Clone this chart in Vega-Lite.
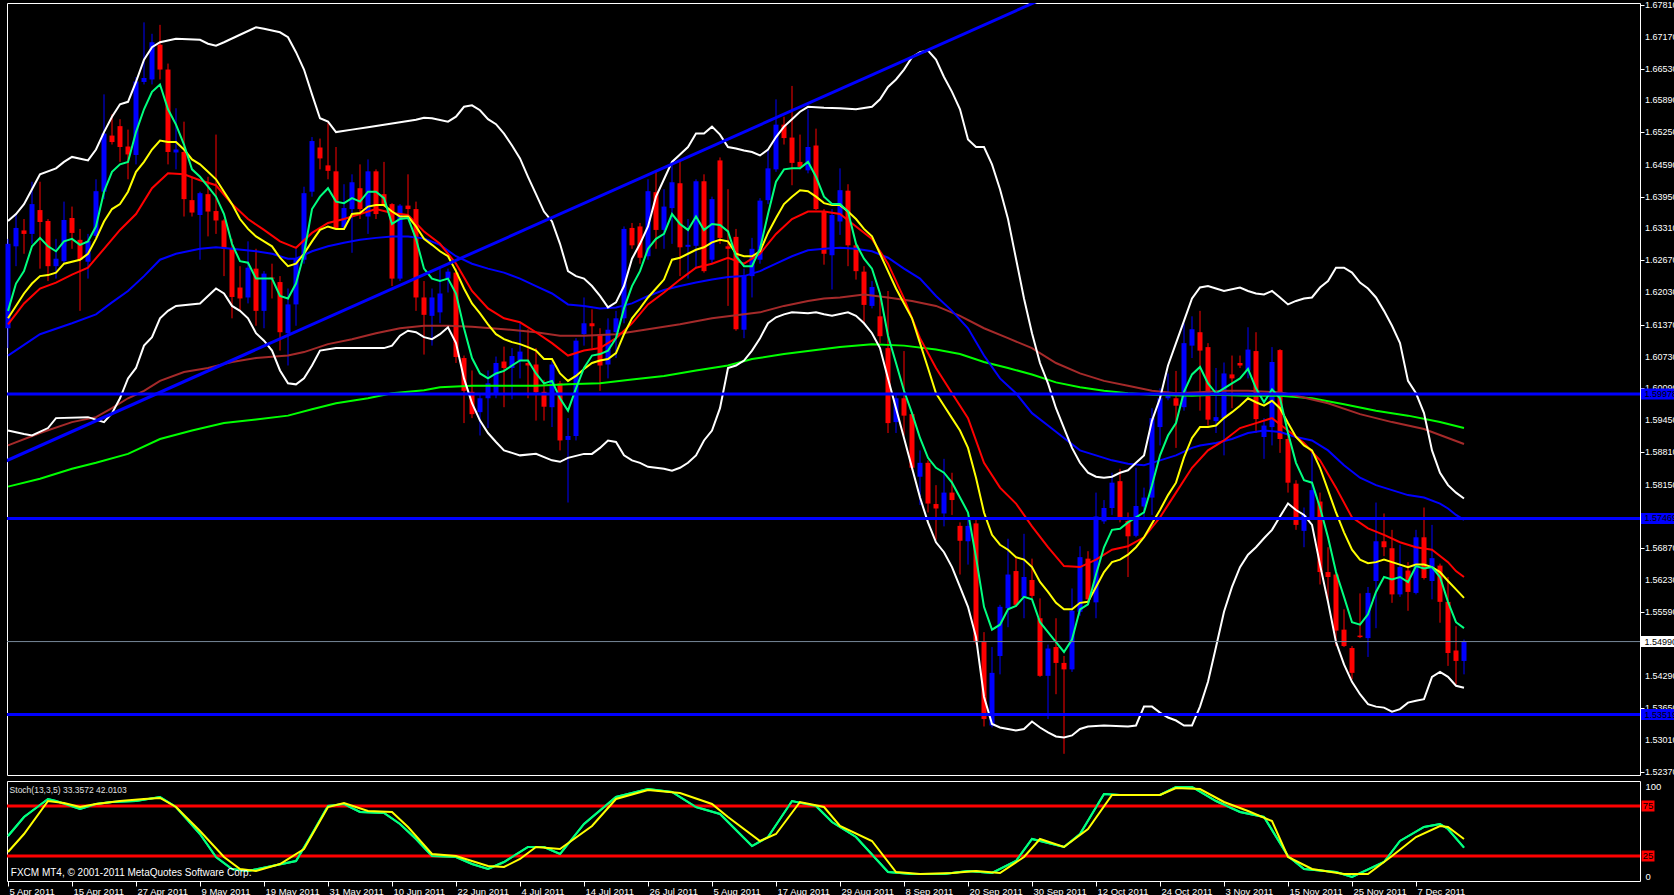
{
"$schema": "https://vega.github.io/schema/vega-lite/v6.json",
"background": "#000000",
"padding": {"left": 3, "top": 0, "right": 0, "bottom": 0},
"spacing": 2,
"config": {
 "view": {"stroke": "#FFFFFF", "strokeWidth": 1, "fill": "#000000"},
 "axis": {"labelColor": "#FFFFFF", "tickColor": "#FFFFFF", "domain": false, "grid": false, "labelFont": "Liberation Sans", "labelFontSize": 9.5, "tickSize": 4, "labelOverlap": false, "labelFlush": false, "title": null},
 "text": {"font": "Liberation Sans"}
},
"datasets": {
"candles": [
{"i":0,"o":1.6130,"h":1.6310,"l":1.6090,"c":1.6300},{"i":1,"o":1.6295,"h":1.6360,"l":1.6255,"c":1.6332},{"i":2,"o":1.6327,"h":1.6350,"l":1.6280,"c":1.6320},{"i":3,"o":1.6320,"h":1.6425,"l":1.6300,"c":1.6380},{"i":4,"o":1.6368,"h":1.6425,"l":1.6250,"c":1.6344},{"i":5,"o":1.6346,"h":1.6350,"l":1.6225,"c":1.6255},{"i":6,"o":1.6255,"h":1.6310,"l":1.6230,"c":1.6270},{"i":7,"o":1.6265,"h":1.6385,"l":1.6260,"c":1.6348},{"i":8,"o":1.6352,"h":1.6375,"l":1.6290,"c":1.6322},{"i":9,"o":1.6308,"h":1.6330,"l":1.6165,"c":1.6268},
{"i":10,"o":1.6264,"h":1.6320,"l":1.6230,"c":1.6306},{"i":11,"o":1.6316,"h":1.6430,"l":1.6310,"c":1.6406},{"i":12,"o":1.6405,"h":1.6601,"l":1.6390,"c":1.6522},{"i":13,"o":1.6518,"h":1.6561,"l":1.6500,"c":1.6505},{"i":14,"o":1.6537,"h":1.6551,"l":1.6465,"c":1.6495},{"i":15,"o":1.6496,"h":1.6530,"l":1.6430,"c":1.6480},{"i":16,"o":1.6479,"h":1.6636,"l":1.6460,"c":1.6627},{"i":17,"o":1.6626,"h":1.6746,"l":1.6621,"c":1.6634},{"i":18,"o":1.6631,"h":1.6723,"l":1.6621,"c":1.6706},{"i":19,"o":1.6701,"h":1.6741,"l":1.6631,"c":1.6651},
{"i":20,"o":1.6651,"h":1.6663,"l":1.6460,"c":1.6485},{"i":21,"o":1.6484,"h":1.6573,"l":1.6450,"c":1.6490},{"i":22,"o":1.6485,"h":1.6546,"l":1.6355,"c":1.6390},{"i":23,"o":1.6388,"h":1.6435,"l":1.6355,"c":1.6363},{"i":24,"o":1.6358,"h":1.6405,"l":1.6268,"c":1.6402},{"i":25,"o":1.6400,"h":1.6435,"l":1.6315,"c":1.6365},{"i":26,"o":1.6366,"h":1.6520,"l":1.6320,"c":1.6347},{"i":27,"o":1.6347,"h":1.6350,"l":1.6235,"c":1.6290},{"i":28,"o":1.6290,"h":1.6310,"l":1.6150,"c":1.6193},{"i":29,"o":1.6212,"h":1.6255,"l":1.6165,"c":1.6190},
{"i":30,"o":1.6192,"h":1.6305,"l":1.6180,"c":1.6252},{"i":31,"o":1.6250,"h":1.6290,"l":1.6135,"c":1.6165},{"i":32,"o":1.6165,"h":1.6245,"l":1.6130,"c":1.6240},{"i":33,"o":1.6232,"h":1.6260,"l":1.6190,"c":1.6230},{"i":34,"o":1.6223,"h":1.6235,"l":1.6085,"c":1.6122},{"i":35,"o":1.6120,"h":1.6210,"l":1.6055,"c":1.6178},{"i":36,"o":1.6178,"h":1.6290,"l":1.6135,"c":1.6270},{"i":37,"o":1.6268,"h":1.6415,"l":1.6260,"c":1.6402},{"i":38,"o":1.6405,"h":1.6515,"l":1.6395,"c":1.6507},{"i":39,"o":1.6494,"h":1.6512,"l":1.6450,"c":1.6472},
{"i":40,"o":1.6458,"h":1.6543,"l":1.6430,"c":1.6447},{"i":41,"o":1.6446,"h":1.6495,"l":1.6330,"c":1.6332},{"i":42,"o":1.6333,"h":1.6420,"l":1.6328,"c":1.6372},{"i":43,"o":1.6370,"h":1.6440,"l":1.6282,"c":1.6424},{"i":44,"o":1.6412,"h":1.6460,"l":1.6350,"c":1.6370},{"i":45,"o":1.6355,"h":1.6470,"l":1.6320,"c":1.6446},{"i":46,"o":1.6446,"h":1.6450,"l":1.6350,"c":1.6360},{"i":47,"o":1.6400,"h":1.6465,"l":1.6375,"c":1.6378},{"i":48,"o":1.6380,"h":1.6382,"l":1.6215,"c":1.6230},{"i":49,"o":1.6230,"h":1.6380,"l":1.6225,"c":1.6377},
{"i":50,"o":1.6377,"h":1.6440,"l":1.6360,"c":1.6370},{"i":51,"o":1.6370,"h":1.6385,"l":1.6165,"c":1.6192},{"i":52,"o":1.6192,"h":1.6225,"l":1.6077,"c":1.6157},{"i":53,"o":1.6155,"h":1.6210,"l":1.6095,"c":1.6192},{"i":54,"o":1.6162,"h":1.6250,"l":1.6140,"c":1.6200},{"i":55,"o":1.6230,"h":1.6250,"l":1.6202,"c":1.6244},{"i":56,"o":1.6242,"h":1.6250,"l":1.6060,"c":1.6072},{"i":57,"o":1.6070,"h":1.6075,"l":1.5939,"c":1.6004},{"i":58,"o":1.6002,"h":1.6045,"l":1.5949,"c":1.5957},{"i":59,"o":1.5961,"h":1.5999,"l":1.5914,"c":1.5989},
{"i":60,"o":1.5989,"h":1.6045,"l":1.5929,"c":1.6019},{"i":61,"o":1.5999,"h":1.6073,"l":1.5989,"c":1.6060},{"i":62,"o":1.6063,"h":1.6093,"l":1.5971,"c":1.6050},{"i":63,"o":1.6050,"h":1.6090,"l":1.5987,"c":1.6074},{"i":64,"o":1.6065,"h":1.6140,"l":1.6029,"c":1.6083},{"i":65,"o":1.6060,"h":1.6128,"l":1.5989,"c":1.6055},{"i":66,"o":1.6057,"h":1.6090,"l":1.5944,"c":1.6001},{"i":67,"o":1.6002,"h":1.6026,"l":1.5944,"c":1.5972},{"i":68,"o":1.5971,"h":1.6063,"l":1.5931,"c":1.6057},{"i":69,"o":1.6019,"h":1.6024,"l":1.5884,"c":1.5904},
{"i":70,"o":1.5905,"h":1.5949,"l":1.5779,"c":1.5913},{"i":71,"o":1.5913,"h":1.6110,"l":1.5904,"c":1.6105},{"i":72,"o":1.6118,"h":1.6192,"l":1.6095,"c":1.6140},{"i":73,"o":1.6140,"h":1.6168,"l":1.6090,"c":1.6134},{"i":74,"o":1.6118,"h":1.6130,"l":1.6004,"c":1.6055},{"i":75,"o":1.6057,"h":1.6150,"l":1.6029,"c":1.6127},{"i":76,"o":1.6122,"h":1.6165,"l":1.6070,"c":1.6150},{"i":77,"o":1.6150,"h":1.6335,"l":1.6140,"c":1.6330},{"i":78,"o":1.6332,"h":1.6342,"l":1.6290,"c":1.6297},{"i":79,"o":1.6335,"h":1.6342,"l":1.6260,"c":1.6272},
{"i":80,"o":1.6275,"h":1.6430,"l":1.6268,"c":1.6406},{"i":81,"o":1.6404,"h":1.6446,"l":1.6290,"c":1.6328},{"i":82,"o":1.6328,"h":1.6410,"l":1.6290,"c":1.6375},{"i":83,"o":1.6372,"h":1.6460,"l":1.6300,"c":1.6424},{"i":84,"o":1.6422,"h":1.6470,"l":1.6235,"c":1.6293},{"i":85,"o":1.6294,"h":1.6350,"l":1.6230,"c":1.6298},{"i":86,"o":1.6296,"h":1.6430,"l":1.6250,"c":1.6426},{"i":87,"o":1.6426,"h":1.6440,"l":1.6242,"c":1.6245},{"i":88,"o":1.6268,"h":1.6395,"l":1.6260,"c":1.6390},{"i":89,"o":1.6468,"h":1.6474,"l":1.6300,"c":1.6312},
{"i":90,"o":1.6295,"h":1.6410,"l":1.6175,"c":1.6290},{"i":91,"o":1.6314,"h":1.6330,"l":1.6125,"c":1.6128},{"i":92,"o":1.6127,"h":1.6250,"l":1.6110,"c":1.6237},{"i":93,"o":1.6235,"h":1.6312,"l":1.6192,"c":1.6290},{"i":94,"o":1.6268,"h":1.6392,"l":1.6260,"c":1.6387},{"i":95,"o":1.6388,"h":1.6490,"l":1.6380,"c":1.6452},{"i":96,"o":1.6450,"h":1.6591,"l":1.6445,"c":1.6540},{"i":97,"o":1.6540,"h":1.6556,"l":1.6500,"c":1.6513},{"i":98,"o":1.6514,"h":1.6618,"l":1.6418,"c":1.6463},{"i":99,"o":1.6465,"h":1.6520,"l":1.6450,"c":1.6455},
{"i":100,"o":1.6448,"h":1.6571,"l":1.6442,"c":1.6495},{"i":101,"o":1.6498,"h":1.6532,"l":1.6368,"c":1.6370},{"i":102,"o":1.6366,"h":1.6370,"l":1.6258,"c":1.6280},{"i":103,"o":1.6277,"h":1.6370,"l":1.6208,"c":1.6358},{"i":104,"o":1.6345,"h":1.6452,"l":1.6318,"c":1.6408},{"i":105,"o":1.6407,"h":1.6420,"l":1.6255,"c":1.6297},{"i":106,"o":1.6297,"h":1.6300,"l":1.6228,"c":1.6245},{"i":107,"o":1.6244,"h":1.6255,"l":1.6142,"c":1.6177},{"i":108,"o":1.6175,"h":1.6225,"l":1.6170,"c":1.6213},{"i":109,"o":1.6154,"h":1.6195,"l":1.6100,"c":1.6114},
{"i":110,"o":1.6090,"h":1.6205,"l":1.5919,"c":1.5939},{"i":111,"o":1.5941,"h":1.5999,"l":1.5919,"c":1.5989},{"i":112,"o":1.5989,"h":1.6084,"l":1.5914,"c":1.5954},{"i":113,"o":1.5957,"h":1.5961,"l":1.5844,"c":1.5849},{"i":114,"o":1.5831,"h":1.5884,"l":1.5774,"c":1.5859},{"i":115,"o":1.5859,"h":1.5864,"l":1.5759,"c":1.5777},{"i":116,"o":1.5776,"h":1.5814,"l":1.5704,"c":1.5767},{"i":117,"o":1.5757,"h":1.5867,"l":1.5731,"c":1.5799},{"i":118,"o":1.5799,"h":1.5839,"l":1.5754,"c":1.5784},{"i":119,"o":1.5732,"h":1.5739,"l":1.5634,"c":1.5702},
{"i":120,"o":1.5701,"h":1.5749,"l":1.5654,"c":1.5732},{"i":121,"o":1.5737,"h":1.5744,"l":1.5493,"c":1.5498},{"i":122,"o":1.5498,"h":1.5518,"l":1.5328,"c":1.5343},{"i":123,"o":1.5330,"h":1.5488,"l":1.5326,"c":1.5436},{"i":124,"o":1.5470,"h":1.5573,"l":1.5433,"c":1.5569},{"i":125,"o":1.5566,"h":1.5706,"l":1.5528,"c":1.5634},{"i":126,"o":1.5641,"h":1.5671,"l":1.5569,"c":1.5573},{"i":127,"o":1.5589,"h":1.5716,"l":1.5546,"c":1.5629},{"i":128,"o":1.5623,"h":1.5666,"l":1.5586,"c":1.5591},{"i":129,"o":1.5546,"h":1.5586,"l":1.5428,"c":1.5430},
{"i":130,"o":1.5430,"h":1.5493,"l":1.5343,"c":1.5485},{"i":131,"o":1.5488,"h":1.5546,"l":1.5393,"c":1.5456},{"i":132,"o":1.5456,"h":1.5470,"l":1.5273,"c":1.5443},{"i":133,"o":1.5443,"h":1.5606,"l":1.5438,"c":1.5561},{"i":134,"o":1.5559,"h":1.5691,"l":1.5551,"c":1.5669},{"i":135,"o":1.5666,"h":1.5681,"l":1.5576,"c":1.5584},{"i":136,"o":1.5578,"h":1.5799,"l":1.5546,"c":1.5751},{"i":137,"o":1.5741,"h":1.5784,"l":1.5736,"c":1.5768},{"i":138,"o":1.5768,"h":1.5839,"l":1.5754,"c":1.5819},{"i":139,"o":1.5822,"h":1.5847,"l":1.5739,"c":1.5744},
{"i":140,"o":1.5742,"h":1.5759,"l":1.5629,"c":1.5711},{"i":141,"o":1.5712,"h":1.5849,"l":1.5709,"c":1.5772},{"i":142,"o":1.5771,"h":1.5809,"l":1.5749,"c":1.5789},{"i":143,"o":1.5789,"h":1.5969,"l":1.5754,"c":1.5949},{"i":144,"o":1.5931,"h":1.6009,"l":1.5894,"c":1.5989},{"i":145,"o":1.5989,"h":1.6039,"l":1.5985,"c":1.5999},{"i":146,"o":1.5989,"h":1.6044,"l":1.5889,"c":1.5974},{"i":147,"o":1.5971,"h":1.6140,"l":1.5964,"c":1.6100},{"i":148,"o":1.6095,"h":1.6154,"l":1.6070,"c":1.6128},{"i":149,"o":1.6122,"h":1.6165,"l":1.5964,"c":1.6085},
{"i":150,"o":1.6092,"h":1.6100,"l":1.5934,"c":1.5946},{"i":151,"o":1.5943,"h":1.6050,"l":1.5919,"c":1.5951},{"i":152,"o":1.5949,"h":1.6061,"l":1.5874,"c":1.6039},{"i":153,"o":1.6037,"h":1.6075,"l":1.5969,"c":1.6029},{"i":154,"o":1.6060,"h":1.6075,"l":1.6050,"c":1.6055},{"i":155,"o":1.6045,"h":1.6132,"l":1.6029,"c":1.6087},{"i":156,"o":1.6084,"h":1.6122,"l":1.5919,"c":1.5947},{"i":157,"o":1.5911,"h":1.5949,"l":1.5867,"c":1.5934},{"i":158,"o":1.5931,"h":1.6092,"l":1.5894,"c":1.6062},{"i":159,"o":1.6086,"h":1.6088,"l":1.5879,"c":1.5907},
{"i":160,"o":1.5907,"h":1.5919,"l":1.5799,"c":1.5819},{"i":161,"o":1.5817,"h":1.5824,"l":1.5724,"c":1.5734},{"i":162,"o":1.5722,"h":1.5769,"l":1.5689,"c":1.5754},{"i":163,"o":1.5749,"h":1.5884,"l":1.5744,"c":1.5804},{"i":164,"o":1.5781,"h":1.5799,"l":1.5614,"c":1.5639},{"i":165,"o":1.5639,"h":1.5689,"l":1.5579,"c":1.5629},{"i":166,"o":1.5634,"h":1.5639,"l":1.5490,"c":1.5521},{"i":167,"o":1.5523,"h":1.5564,"l":1.5488,"c":1.5490},{"i":168,"o":1.5486,"h":1.5490,"l":1.5423,"c":1.5436},{"i":169,"o":1.5511,"h":1.5596,"l":1.5506,"c":1.5508},
{"i":170,"o":1.5506,"h":1.5609,"l":1.5468,"c":1.5597},{"i":171,"o":1.5621,"h":1.5779,"l":1.5526,"c":1.5701},{"i":172,"o":1.5701,"h":1.5757,"l":1.5671,"c":1.5689},{"i":173,"o":1.5687,"h":1.5724,"l":1.5577,"c":1.5594},{"i":174,"o":1.5594,"h":1.5694,"l":1.5589,"c":1.5649},{"i":175,"o":1.5642,"h":1.5659,"l":1.5561,"c":1.5599},{"i":176,"o":1.5597,"h":1.5724,"l":1.5594,"c":1.5709},{"i":177,"o":1.5709,"h":1.5769,"l":1.5624,"c":1.5627},{"i":178,"o":1.5621,"h":1.5734,"l":1.5584,"c":1.5667},{"i":179,"o":1.5652,"h":1.5656,"l":1.5537,"c":1.5579},
{"i":180,"o":1.5579,"h":1.5629,"l":1.5450,"c":1.5476},{"i":181,"o":1.5481,"h":1.5530,"l":1.5413,"c":1.5460},{"i":182,"o":1.5460,"h":1.5503,"l":1.5433,"c":1.5499}
],
"green": [
{"i":0,"v":1.6165},{"i":1,"v":1.6220},{"i":2,"v":1.6245},{"i":3,"v":1.6295},{"i":4,"v":1.6312},{"i":5,"v":1.6295},{"i":6,"v":1.6285},{"i":7,"v":1.6305},{"i":8,"v":1.6310},{"i":9,"v":1.6298},{"i":10,"v":1.6305},{"i":11,"v":1.6335},{"i":12,"v":1.6405},{"i":13,"v":1.6445},{"i":14,"v":1.6460},{"i":15,"v":1.6465},{"i":16,"v":1.6525},{"i":17,"v":1.6571},{"i":18,"v":1.6606},{"i":19,"v":1.6621},{"i":20,"v":1.6571},{"i":21,"v":1.6540},{"i":22,"v":1.6500},{"i":23,"v":1.6450},{"i":24,"v":1.6435},{"i":25,"v":1.6415},{"i":26,"v":1.6395},{"i":27,"v":1.6360},{"i":28,"v":1.6300},{"i":29,"v":1.6265},{"i":30,"v":1.6262},{"i":31,"v":1.6230},{"i":32,"v":1.6230},{"i":33,"v":1.6230},{"i":34,"v":1.6195},{"i":35,"v":1.6190},{"i":36,"v":1.6220},{"i":37,"v":1.6280},{"i":38,"v":1.6370},{"i":39,"v":1.6395},{"i":40,"v":1.6412},{"i":41,"v":1.6385},{"i":42,"v":1.6382},{"i":43,"v":1.6392},{"i":44,"v":1.6385},{"i":45,"v":1.6405},{"i":46,"v":1.6405},{"i":47,"v":1.6392},{"i":48,"v":1.6340},{"i":49,"v":1.6350},
{"i":50,"v":1.6352},{"i":51,"v":1.6310},{"i":52,"v":1.6250},{"i":53,"v":1.6230},{"i":54,"v":1.6225},{"i":55,"v":1.6230},{"i":56,"v":1.6200},{"i":57,"v":1.6130},{"i":58,"v":1.6070},{"i":59,"v":1.6039},{"i":60,"v":1.6029},{"i":61,"v":1.6039},{"i":62,"v":1.6044},{"i":63,"v":1.6055},{"i":64,"v":1.6065},{"i":65,"v":1.6065},{"i":66,"v":1.6039},{"i":67,"v":1.6019},{"i":68,"v":1.6024},{"i":69,"v":1.5989},{"i":70,"v":1.5964},{"i":71,"v":1.6009},{"i":72,"v":1.6050},{"i":73,"v":1.6075},{"i":74,"v":1.6078},{"i":75,"v":1.6085},{"i":76,"v":1.6110},{"i":77,"v":1.6170},{"i":78,"v":1.6215},{"i":79,"v":1.6245},{"i":80,"v":1.6290},{"i":81,"v":1.6310},{"i":82,"v":1.6320},{"i":83,"v":1.6360},{"i":84,"v":1.6340},{"i":85,"v":1.6328},{"i":86,"v":1.6355},{"i":87,"v":1.6328},{"i":88,"v":1.6340},{"i":89,"v":1.6338},{"i":90,"v":1.6325},{"i":91,"v":1.6275},{"i":92,"v":1.6255},{"i":93,"v":1.6255},{"i":94,"v":1.6290},{"i":95,"v":1.6360},{"i":96,"v":1.6425},{"i":97,"v":1.6450},{"i":98,"v":1.6452},{"i":99,"v":1.6452},
{"i":100,"v":1.6465},{"i":101,"v":1.6435},{"i":102,"v":1.6395},{"i":103,"v":1.6380},{"i":104,"v":1.6380},{"i":105,"v":1.6365},{"i":106,"v":1.6300},{"i":107,"v":1.6270},{"i":108,"v":1.6250},{"i":109,"v":1.6200},{"i":110,"v":1.6115},{"i":111,"v":1.6060},{"i":112,"v":1.6004},{"i":113,"v":1.5959},{"i":114,"v":1.5909},{"i":115,"v":1.5869},{"i":116,"v":1.5849},{"i":117,"v":1.5839},{"i":118,"v":1.5819},{"i":119,"v":1.5789},{"i":120,"v":1.5759},{"i":121,"v":1.5669},{"i":122,"v":1.5569},{"i":123,"v":1.5523},{"i":124,"v":1.5533},{"i":125,"v":1.5564},{"i":126,"v":1.5571},{"i":127,"v":1.5589},{"i":128,"v":1.5584},{"i":129,"v":1.5538},{"i":130,"v":1.5518},{"i":131,"v":1.5498},{"i":132,"v":1.5478},{"i":133,"v":1.5503},{"i":134,"v":1.5564},{"i":135,"v":1.5574},{"i":136,"v":1.5634},{"i":137,"v":1.5689},{"i":138,"v":1.5724},{"i":139,"v":1.5726},{"i":140,"v":1.5739},{"i":141,"v":1.5749},{"i":142,"v":1.5759},{"i":143,"v":1.5814},{"i":144,"v":1.5874},{"i":145,"v":1.5914},{"i":146,"v":1.5939},{"i":147,"v":1.6002},{"i":148,"v":1.6037},{"i":149,"v":1.6052},
{"i":150,"v":1.6019},{"i":151,"v":1.5999},{"i":152,"v":1.6009},{"i":153,"v":1.6019},{"i":154,"v":1.6029},{"i":155,"v":1.6048},{"i":156,"v":1.6009},{"i":157,"v":1.5981},{"i":158,"v":1.6007},{"i":159,"v":1.5989},{"i":160,"v":1.5919},{"i":161,"v":1.5859},{"i":162,"v":1.5824},{"i":163,"v":1.5819},{"i":164,"v":1.5769},{"i":165,"v":1.5709},{"i":166,"v":1.5639},{"i":167,"v":1.5589},{"i":168,"v":1.5538},{"i":169,"v":1.5533},{"i":170,"v":1.5554},{"i":171,"v":1.5599},{"i":172,"v":1.5629},{"i":173,"v":1.5624},{"i":174,"v":1.5629},{"i":175,"v":1.5619},{"i":176,"v":1.5651},{"i":177,"v":1.5646},{"i":178,"v":1.5649},{"i":179,"v":1.5629},{"i":180,"v":1.5579},{"i":181,"v":1.5538},{"i":182,"v":1.5526}
],
"yellow": [
{"i":0,"v":1.6150},{"i":2,"v":1.6200},{"i":3,"v":1.6220},{"i":4,"v":1.6235},{"i":5,"v":1.6237},{"i":6,"v":1.6242},{"i":7,"v":1.6260},{"i":9,"v":1.6268},{"i":10,"v":1.6280},{"i":11,"v":1.6310},{"i":12,"v":1.6345},{"i":13,"v":1.6370},{"i":14,"v":1.6380},{"i":15,"v":1.6405},{"i":16,"v":1.6445},{"i":17,"v":1.6465},{"i":18,"v":1.6490},{"i":19,"v":1.6508},{"i":20,"v":1.6505},{"i":21,"v":1.6505},{"i":22,"v":1.6490},{"i":23,"v":1.6470},{"i":24,"v":1.6460},{"i":25,"v":1.6445},{"i":26,"v":1.6430},{"i":27,"v":1.6405},{"i":28,"v":1.6380},{"i":29,"v":1.6350},{"i":30,"v":1.6330},{"i":31,"v":1.6315},{"i":32,"v":1.6305},{"i":33,"v":1.6295},{"i":34,"v":1.6272},{"i":35,"v":1.6255},{"i":36,"v":1.6260},{"i":37,"v":1.6280},{"i":38,"v":1.6305},{"i":39,"v":1.6328},{"i":40,"v":1.6335},{"i":41,"v":1.6330},{"i":42,"v":1.6330},{"i":43,"v":1.6360},{"i":44,"v":1.6362},{"i":45,"v":1.6375},{"i":46,"v":1.6378},{"i":47,"v":1.6378},{"i":48,"v":1.6365},{"i":49,"v":1.6355},
{"i":50,"v":1.6355},{"i":51,"v":1.6335},{"i":52,"v":1.6310},{"i":53,"v":1.6298},{"i":54,"v":1.6285},{"i":55,"v":1.6275},{"i":56,"v":1.6245},{"i":57,"v":1.6210},{"i":58,"v":1.6180},{"i":59,"v":1.6160},{"i":60,"v":1.6138},{"i":61,"v":1.6118},{"i":62,"v":1.6108},{"i":63,"v":1.6102},{"i":64,"v":1.6098},{"i":65,"v":1.6092},{"i":66,"v":1.6085},{"i":67,"v":1.6068},{"i":68,"v":1.6068},{"i":69,"v":1.6039},{"i":70,"v":1.6024},{"i":71,"v":1.6034},{"i":72,"v":1.6048},{"i":73,"v":1.6060},{"i":74,"v":1.6065},{"i":75,"v":1.6068},{"i":76,"v":1.6080},{"i":77,"v":1.6118},{"i":78,"v":1.6150},{"i":79,"v":1.6170},{"i":80,"v":1.6192},{"i":81,"v":1.6210},{"i":82,"v":1.6228},{"i":83,"v":1.6268},{"i":84,"v":1.6272},{"i":85,"v":1.6280},{"i":86,"v":1.6288},{"i":87,"v":1.6293},{"i":88,"v":1.6303},{"i":89,"v":1.6308},{"i":90,"v":1.6305},{"i":91,"v":1.6280},{"i":92,"v":1.6275},{"i":93,"v":1.6275},{"i":94,"v":1.6285},{"i":95,"v":1.6322},{"i":96,"v":1.6352},{"i":97,"v":1.6380},{"i":98,"v":1.6395},{"i":99,"v":1.6408},
{"i":100,"v":1.6406},{"i":101,"v":1.6395},{"i":102,"v":1.6382},{"i":103,"v":1.6378},{"i":104,"v":1.6378},{"i":105,"v":1.6365},{"i":106,"v":1.6350},{"i":107,"v":1.6330},{"i":108,"v":1.6315},{"i":109,"v":1.6280},{"i":110,"v":1.6245},{"i":111,"v":1.6210},{"i":112,"v":1.6180},{"i":113,"v":1.6150},{"i":114,"v":1.6100},{"i":115,"v":1.6050},{"i":116,"v":1.5999},{"i":117,"v":1.5974},{"i":118,"v":1.5949},{"i":119,"v":1.5924},{"i":120,"v":1.5889},{"i":121,"v":1.5829},{"i":122,"v":1.5759},{"i":123,"v":1.5714},{"i":124,"v":1.5694},{"i":125,"v":1.5684},{"i":126,"v":1.5669},{"i":127,"v":1.5664},{"i":128,"v":1.5649},{"i":129,"v":1.5619},{"i":130,"v":1.5599},{"i":131,"v":1.5577},{"i":132,"v":1.5564},{"i":133,"v":1.5564},{"i":134,"v":1.5577},{"i":135,"v":1.5579},{"i":136,"v":1.5609},{"i":137,"v":1.5639},{"i":138,"v":1.5659},{"i":139,"v":1.5664},{"i":140,"v":1.5674},{"i":141,"v":1.5689},{"i":142,"v":1.5709},{"i":143,"v":1.5737},{"i":144,"v":1.5764},{"i":145,"v":1.5794},{"i":146,"v":1.5819},{"i":147,"v":1.5870},{"i":148,"v":1.5909},{"i":149,"v":1.5931},
{"i":150,"v":1.5931},{"i":151,"v":1.5934},{"i":152,"v":1.5949},{"i":153,"v":1.5961},{"i":154,"v":1.5974},{"i":155,"v":1.5989},{"i":156,"v":1.5981},{"i":157,"v":1.5974},{"i":158,"v":1.5984},{"i":159,"v":1.5969},{"i":160,"v":1.5939},{"i":161,"v":1.5911},{"i":162,"v":1.5894},{"i":163,"v":1.5884},{"i":164,"v":1.5849},{"i":165,"v":1.5804},{"i":166,"v":1.5759},{"i":167,"v":1.5719},{"i":168,"v":1.5684},{"i":169,"v":1.5664},{"i":170,"v":1.5657},{"i":171,"v":1.5659},{"i":172,"v":1.5664},{"i":173,"v":1.5659},{"i":174,"v":1.5654},{"i":175,"v":1.5649},{"i":176,"v":1.5654},{"i":177,"v":1.5654},{"i":178,"v":1.5649},{"i":179,"v":1.5639},{"i":180,"v":1.5621},{"i":181,"v":1.5604},{"i":182,"v":1.5587}
],
"red": [
{"i":0,"v":1.6138},{"i":2,"v":1.6180},{"i":4,"v":1.6210},{"i":6,"v":1.6222},{"i":8,"v":1.6238},{"i":10,"v":1.6252},{"i":12,"v":1.6290},{"i":14,"v":1.6328},{"i":16,"v":1.6360},{"i":18,"v":1.6412},{"i":20,"v":1.6442},{"i":22,"v":1.6440},{"i":24,"v":1.6428},{"i":26,"v":1.6418},{"i":28,"v":1.6380},{"i":30,"v":1.6350},{"i":32,"v":1.6328},{"i":34,"v":1.6305},{"i":36,"v":1.6292},{"i":38,"v":1.6322},{"i":40,"v":1.6342},{"i":42,"v":1.6350},{"i":44,"v":1.6360},{"i":46,"v":1.6370},{"i":48,"v":1.6362},{"i":50,"v":1.6358},{"i":52,"v":1.6325},{"i":54,"v":1.6300},{"i":56,"v":1.6260},{"i":58,"v":1.6205},{"i":60,"v":1.6170},{"i":62,"v":1.6150},{"i":64,"v":1.6142},{"i":66,"v":1.6122},{"i":68,"v":1.6100},{"i":70,"v":1.6075},{"i":72,"v":1.6085},{"i":74,"v":1.6090},{"i":76,"v":1.6110},{"i":78,"v":1.6140},{"i":80,"v":1.6178},{"i":82,"v":1.6202},{"i":84,"v":1.6228},{"i":86,"v":1.6252},{"i":88,"v":1.6260},{"i":90,"v":1.6272},{"i":92,"v":1.6260},{"i":94,"v":1.6280},{"i":96,"v":1.6320},{"i":98,"v":1.6350},
{"i":100,"v":1.6365},{"i":102,"v":1.6365},{"i":104,"v":1.6360},{"i":106,"v":1.6335},{"i":108,"v":1.6310},{"i":110,"v":1.6260},{"i":112,"v":1.6190},{"i":114,"v":1.6110},{"i":116,"v":1.6050},{"i":118,"v":1.5999},{"i":120,"v":1.5949},{"i":122,"v":1.5859},{"i":124,"v":1.5809},{"i":126,"v":1.5777},{"i":128,"v":1.5731},{"i":130,"v":1.5689},{"i":132,"v":1.5651},{"i":134,"v":1.5649},{"i":136,"v":1.5664},{"i":138,"v":1.5684},{"i":140,"v":1.5691},{"i":142,"v":1.5709},{"i":144,"v":1.5749},{"i":146,"v":1.5799},{"i":148,"v":1.5849},{"i":150,"v":1.5884},{"i":152,"v":1.5904},{"i":154,"v":1.5929},{"i":156,"v":1.5939},{"i":158,"v":1.5949},{"i":160,"v":1.5924},{"i":162,"v":1.5899},{"i":164,"v":1.5864},{"i":166,"v":1.5809},{"i":168,"v":1.5749},{"i":170,"v":1.5727},{"i":172,"v":1.5714},{"i":174,"v":1.5699},{"i":176,"v":1.5689},{"i":178,"v":1.5684},{"i":180,"v":1.5659},{"i":181,"v":1.5641},{"i":182,"v":1.5629}
],
"bluema": [
{"i":0,"v":1.6075},{"i":4,"v":1.6118},{"i":8,"v":1.6140},{"i":11,"v":1.6158},{"i":13,"v":1.6182},{"i":15,"v":1.6205},{"i":17,"v":1.6235},{"i":19,"v":1.6268},{"i":21,"v":1.6280},{"i":24,"v":1.6290},{"i":26,"v":1.6293},{"i":28,"v":1.6290},{"i":31,"v":1.6285},{"i":33,"v":1.6280},{"i":35,"v":1.6270},{"i":36,"v":1.6270},{"i":38,"v":1.6285},{"i":40,"v":1.6295},{"i":42,"v":1.6302},{"i":44,"v":1.6308},{"i":46,"v":1.6312},{"i":48,"v":1.6315},{"i":50,"v":1.6315},{"i":52,"v":1.6311},{"i":54,"v":1.6298},{"i":56,"v":1.6275},{"i":58,"v":1.6260},{"i":60,"v":1.6250},{"i":62,"v":1.6242},{"i":64,"v":1.6230},{"i":66,"v":1.6215},{"i":68,"v":1.6200},{"i":70,"v":1.6178},{"i":72,"v":1.6175},{"i":74,"v":1.6170},{"i":76,"v":1.6172},{"i":78,"v":1.6180},{"i":80,"v":1.6195},{"i":82,"v":1.6207},{"i":84,"v":1.6215},{"i":86,"v":1.6222},{"i":88,"v":1.6228},{"i":90,"v":1.6233},{"i":92,"v":1.6235},{"i":94,"v":1.6245},{"i":96,"v":1.6260},{"i":98,"v":1.6275},{"i":100,"v":1.6287},{"i":102,"v":1.6290},{"i":104,"v":1.6292},{"i":106,"v":1.6290},{"i":108,"v":1.6285},{"i":110,"v":1.6272},{"i":112,"v":1.6250},{"i":114,"v":1.6230},{"i":116,"v":1.6195},{"i":118,"v":1.6165},{"i":120,"v":1.6130},{"i":122,"v":1.6075},{"i":124,"v":1.6029},{"i":126,"v":1.5999},{"i":128,"v":1.5959},{"i":130,"v":1.5934},{"i":132,"v":1.5909},{"i":134,"v":1.5884},{"i":136,"v":1.5874},{"i":138,"v":1.5864},{"i":140,"v":1.5857},{"i":142,"v":1.5854},{"i":144,"v":1.5864},{"i":146,"v":1.5874},{"i":148,"v":1.5889},{"i":149,"v":1.5894},{"i":151,"v":1.5899},{"i":153,"v":1.5907},{"i":155,"v":1.5919},{"i":157,"v":1.5924},{"i":159,"v":1.5921},{"i":161,"v":1.5911},{"i":163,"v":1.5904},{"i":165,"v":1.5884},{"i":167,"v":1.5854},{"i":169,"v":1.5829},{"i":171,"v":1.5814},{"i":173,"v":1.5804},{"i":175,"v":1.5794},{"i":177,"v":1.5789},{"i":179,"v":1.5777},{"i":180,"v":1.5767},{"i":181,"v":1.5754},{"i":182,"v":1.5744}
],
"brown": [
{"i":0,"v":1.5894},{"i":4,"v":1.5919},{"i":8,"v":1.5941},{"i":11,"v":1.5951},{"i":13,"v":1.5969},{"i":15,"v":1.5989},{"i":17,"v":1.6004},{"i":19,"v":1.6024},{"i":22,"v":1.6042},{"i":25,"v":1.6050},{"i":28,"v":1.6062},{"i":31,"v":1.6070},{"i":35,"v":1.6075},{"i":37,"v":1.6082},{"i":40,"v":1.6098},{"i":43,"v":1.6108},{"i":46,"v":1.6120},{"i":49,"v":1.6130},{"i":52,"v":1.6135},{"i":55,"v":1.6135},{"i":58,"v":1.6133},{"i":62,"v":1.6128},{"i":66,"v":1.6122},{"i":69,"v":1.6115},{"i":72,"v":1.6115},{"i":76,"v":1.6118},{"i":80,"v":1.6128},{"i":84,"v":1.6138},{"i":88,"v":1.6150},{"i":92,"v":1.6158},{"i":94,"v":1.6162},{"i":97,"v":1.6175},{"i":100,"v":1.6185},{"i":102,"v":1.6190},{"i":104,"v":1.6192},{"i":107,"v":1.6198},{"i":110,"v":1.6192},{"i":113,"v":1.6185},{"i":116,"v":1.6175},{"i":119,"v":1.6155},{"i":122,"v":1.6130},{"i":125,"v":1.6110},{"i":128,"v":1.6090},{"i":131,"v":1.6060},{"i":134,"v":1.6039},{"i":137,"v":1.6024},{"i":140,"v":1.6014},{"i":143,"v":1.6004},{"i":146,"v":1.5999},{"i":149,"v":1.6001},{"i":152,"v":1.6004},{"i":155,"v":1.6004},{"i":159,"v":1.6001},{"i":161,"v":1.5994},{"i":165,"v":1.5979},{"i":169,"v":1.5957},{"i":173,"v":1.5941},{"i":177,"v":1.5927},{"i":180,"v":1.5909},{"i":182,"v":1.5897}
],
"lime": [
{"i":0,"v":1.5811},{"i":4,"v":1.5827},{"i":8,"v":1.5847},{"i":11,"v":1.5859},{"i":15,"v":1.5877},{"i":19,"v":1.5907},{"i":23,"v":1.5924},{"i":27,"v":1.5939},{"i":31,"v":1.5946},{"i":35,"v":1.5954},{"i":38,"v":1.5967},{"i":41,"v":1.5979},{"i":45,"v":1.5989},{"i":48,"v":1.5999},{"i":52,"v":1.6005},{"i":54,"v":1.6011},{"i":58,"v":1.6014},{"i":62,"v":1.6014},{"i":66,"v":1.6014},{"i":70,"v":1.6017},{"i":74,"v":1.6019},{"i":78,"v":1.6027},{"i":82,"v":1.6034},{"i":86,"v":1.6045},{"i":90,"v":1.6055},{"i":93,"v":1.6068},{"i":97,"v":1.6078},{"i":102,"v":1.6088},{"i":104,"v":1.6092},{"i":108,"v":1.6098},{"i":112,"v":1.6095},{"i":116,"v":1.6087},{"i":119,"v":1.6078},{"i":122,"v":1.6062},{"i":125,"v":1.6050},{"i":128,"v":1.6037},{"i":131,"v":1.6021},{"i":134,"v":1.6011},{"i":137,"v":1.6004},{"i":140,"v":1.5999},{"i":143,"v":1.5996},{"i":148,"v":1.5994},{"i":151,"v":1.5996},{"i":155,"v":1.5994},{"i":159,"v":1.5994},{"i":163,"v":1.5989},{"i":167,"v":1.5977},{"i":171,"v":1.5964},{"i":175,"v":1.5954},{"i":179,"v":1.5941},{"i":182,"v":1.5929}
],
"upper": [
{"i":0,"v":1.6346},{"i":1,"v":1.6360},{"i":2,"v":1.6380},{"i":3,"v":1.6410},{"i":4,"v":1.6440},{"i":6,"v":1.6452},{"i":7,"v":1.6465},{"i":8,"v":1.6475},{"i":10,"v":1.6468},{"i":11,"v":1.6490},{"i":12,"v":1.6525},{"i":13,"v":1.6556},{"i":14,"v":1.6581},{"i":15,"v":1.6586},{"i":16,"v":1.6626},{"i":17,"v":1.6671},{"i":18,"v":1.6696},{"i":19,"v":1.6706},{"i":21,"v":1.6713},{"i":24,"v":1.6711},{"i":25,"v":1.6703},{"i":26,"v":1.6699},{"i":27,"v":1.6706},{"i":29,"v":1.6721},{"i":31,"v":1.6736},{"i":32,"v":1.6733},{"i":34,"v":1.6726},{"i":35,"v":1.6716},{"i":36,"v":1.6686},{"i":37,"v":1.6651},{"i":38,"v":1.6601},{"i":39,"v":1.6553},{"i":40,"v":1.6546},{"i":41,"v":1.6525},{"i":43,"v":1.6530},{"i":45,"v":1.6535},{"i":47,"v":1.6540},{"i":49,"v":1.6545},{"i":51,"v":1.6550},{"i":52,"v":1.6554},{"i":53,"v":1.6553},{"i":55,"v":1.6546},{"i":56,"v":1.6556},{"i":57,"v":1.6576},{"i":58,"v":1.6579},{"i":59,"v":1.6569},{"i":60,"v":1.6551},{"i":61,"v":1.6541},{"i":62,"v":1.6522},{"i":63,"v":1.6498},{"i":64,"v":1.6472},{"i":65,"v":1.6435},{"i":66,"v":1.6400},{"i":67,"v":1.6365},{"i":68,"v":1.6345},{"i":69,"v":1.6300},{"i":70,"v":1.6245},{"i":71,"v":1.6235},{"i":72,"v":1.6230},{"i":73,"v":1.6215},{"i":74,"v":1.6195},{"i":75,"v":1.6172},{"i":76,"v":1.6182},{"i":77,"v":1.6215},{"i":78,"v":1.6270},{"i":79,"v":1.6300},{"i":80,"v":1.6335},{"i":81,"v":1.6395},{"i":82,"v":1.6430},{"i":83,"v":1.6465},{"i":84,"v":1.6480},{"i":85,"v":1.6495},{"i":86,"v":1.6522},{"i":87,"v":1.6522},{"i":88,"v":1.6536},{"i":89,"v":1.6520},{"i":90,"v":1.6495},{"i":91,"v":1.6492},{"i":92,"v":1.6488},{"i":93,"v":1.6485},{"i":94,"v":1.6478},{"i":95,"v":1.6490},{"i":96,"v":1.6515},{"i":97,"v":1.6536},{"i":98,"v":1.6551},{"i":99,"v":1.6566},
{"i":100,"v":1.6576},{"i":102,"v":1.6574},{"i":104,"v":1.6573},{"i":106,"v":1.6571},{"i":108,"v":1.6576},{"i":109,"v":1.6591},{"i":110,"v":1.6616},{"i":111,"v":1.6631},{"i":112,"v":1.6651},{"i":113,"v":1.6676},{"i":114,"v":1.6686},{"i":115,"v":1.6689},{"i":116,"v":1.6671},{"i":117,"v":1.6636},{"i":118,"v":1.6606},{"i":119,"v":1.6571},{"i":120,"v":1.6510},{"i":121,"v":1.6495},{"i":122,"v":1.6495},{"i":123,"v":1.6460},{"i":124,"v":1.6410},{"i":125,"v":1.6350},{"i":126,"v":1.6270},{"i":127,"v":1.6190},{"i":128,"v":1.6120},{"i":129,"v":1.6060},{"i":130,"v":1.6019},{"i":131,"v":1.5969},{"i":132,"v":1.5929},{"i":133,"v":1.5889},{"i":134,"v":1.5859},{"i":135,"v":1.5839},{"i":136,"v":1.5831},{"i":137,"v":1.5829},{"i":138,"v":1.5831},{"i":139,"v":1.5839},{"i":140,"v":1.5844},{"i":141,"v":1.5859},{"i":142,"v":1.5874},{"i":143,"v":1.5944},{"i":144,"v":1.5989},{"i":145,"v":1.6055},{"i":146,"v":1.6100},{"i":147,"v":1.6145},{"i":148,"v":1.6190},{"i":149,"v":1.6212},{"i":150,"v":1.6215},{"i":151,"v":1.6210},{"i":152,"v":1.6205},{"i":154,"v":1.6212},{"i":155,"v":1.6205},{"i":156,"v":1.6200},{"i":157,"v":1.6198},{"i":158,"v":1.6205},{"i":159,"v":1.6192},{"i":160,"v":1.6178},{"i":161,"v":1.6185},{"i":162,"v":1.6190},{"i":163,"v":1.6192},{"i":164,"v":1.6212},{"i":165,"v":1.6225},{"i":166,"v":1.6252},{"i":167,"v":1.6252},{"i":168,"v":1.6242},{"i":169,"v":1.6222},{"i":170,"v":1.6210},{"i":171,"v":1.6192},{"i":172,"v":1.6165},{"i":173,"v":1.6135},{"i":174,"v":1.6100},{"i":175,"v":1.6024},{"i":176,"v":1.5999},{"i":177,"v":1.5959},{"i":178,"v":1.5884},{"i":179,"v":1.5839},{"i":180,"v":1.5814},{"i":181,"v":1.5799},{"i":182,"v":1.5787}
],
"lower": [
{"i":0,"v":1.5924},{"i":2,"v":1.5917},{"i":3,"v":1.5914},{"i":5,"v":1.5929},{"i":6,"v":1.5949},{"i":10,"v":1.5951},{"i":12,"v":1.5941},{"i":13,"v":1.5959},{"i":14,"v":1.5989},{"i":15,"v":1.6029},{"i":16,"v":1.6050},{"i":17,"v":1.6095},{"i":18,"v":1.6112},{"i":19,"v":1.6150},{"i":20,"v":1.6165},{"i":21,"v":1.6175},{"i":24,"v":1.6180},{"i":25,"v":1.6195},{"i":26,"v":1.6210},{"i":27,"v":1.6200},{"i":28,"v":1.6175},{"i":29,"v":1.6165},{"i":30,"v":1.6150},{"i":31,"v":1.6120},{"i":32,"v":1.6105},{"i":33,"v":1.6085},{"i":34,"v":1.6045},{"i":35,"v":1.6019},{"i":36,"v":1.6017},{"i":37,"v":1.6029},{"i":38,"v":1.6055},{"i":39,"v":1.6085},{"i":41,"v":1.6090},{"i":47,"v":1.6090},{"i":48,"v":1.6095},{"i":49,"v":1.6115},{"i":50,"v":1.6125},{"i":51,"v":1.6122},{"i":52,"v":1.6112},{"i":53,"v":1.6108},{"i":54,"v":1.6118},{"i":55,"v":1.6132},{"i":56,"v":1.6100},{"i":57,"v":1.6029},{"i":58,"v":1.5979},{"i":59,"v":1.5944},{"i":60,"v":1.5919},{"i":61,"v":1.5901},{"i":62,"v":1.5884},{"i":63,"v":1.5879},{"i":64,"v":1.5874},{"i":66,"v":1.5877},{"i":68,"v":1.5864},{"i":69,"v":1.5861},{"i":70,"v":1.5869},{"i":72,"v":1.5877},{"i":73,"v":1.5877},{"i":74,"v":1.5889},{"i":75,"v":1.5904},{"i":76,"v":1.5901},{"i":77,"v":1.5874},{"i":78,"v":1.5864},{"i":79,"v":1.5859},{"i":80,"v":1.5851},{"i":82,"v":1.5847},{"i":83,"v":1.5843},{"i":84,"v":1.5849},{"i":85,"v":1.5859},{"i":86,"v":1.5874},{"i":87,"v":1.5904},{"i":88,"v":1.5924},{"i":89,"v":1.5969},{"i":90,"v":1.6050},{"i":91,"v":1.6055},{"i":92,"v":1.6065},{"i":93,"v":1.6085},{"i":94,"v":1.6110},{"i":95,"v":1.6140},{"i":96,"v":1.6152},{"i":97,"v":1.6158},{"i":98,"v":1.6162},
{"i":100,"v":1.6160},{"i":101,"v":1.6162},{"i":102,"v":1.6158},{"i":103,"v":1.6155},{"i":105,"v":1.6162},{"i":106,"v":1.6155},{"i":107,"v":1.6140},{"i":108,"v":1.6120},{"i":109,"v":1.6090},{"i":110,"v":1.6029},{"i":111,"v":1.5969},{"i":112,"v":1.5909},{"i":113,"v":1.5849},{"i":114,"v":1.5789},{"i":115,"v":1.5739},{"i":116,"v":1.5699},{"i":117,"v":1.5679},{"i":118,"v":1.5649},{"i":119,"v":1.5609},{"i":120,"v":1.5569},{"i":121,"v":1.5508},{"i":122,"v":1.5388},{"i":123,"v":1.5333},{"i":124,"v":1.5326},{"i":125,"v":1.5323},{"i":126,"v":1.5320},{"i":127,"v":1.5323},{"i":128,"v":1.5338},{"i":129,"v":1.5326},{"i":130,"v":1.5316},{"i":131,"v":1.5308},{"i":132,"v":1.5306},{"i":133,"v":1.5310},{"i":134,"v":1.5323},{"i":135,"v":1.5328},{"i":137,"v":1.5330},{"i":140,"v":1.5328},{"i":141,"v":1.5330},{"i":142,"v":1.5368},{"i":143,"v":1.5368},{"i":144,"v":1.5356},{"i":145,"v":1.5346},{"i":146,"v":1.5340},{"i":147,"v":1.5330},{"i":148,"v":1.5330},{"i":149,"v":1.5368},{"i":150,"v":1.5418},{"i":151,"v":1.5488},{"i":152,"v":1.5559},{"i":153,"v":1.5609},{"i":154,"v":1.5649},{"i":155,"v":1.5674},{"i":156,"v":1.5689},{"i":157,"v":1.5707},{"i":158,"v":1.5724},{"i":159,"v":1.5751},{"i":160,"v":1.5777},{"i":161,"v":1.5764},{"i":162,"v":1.5754},{"i":163,"v":1.5734},{"i":164,"v":1.5654},{"i":165,"v":1.5579},{"i":166,"v":1.5498},{"i":167,"v":1.5453},{"i":168,"v":1.5418},{"i":169,"v":1.5393},{"i":170,"v":1.5373},{"i":171,"v":1.5368},{"i":172,"v":1.5366},{"i":173,"v":1.5358},{"i":174,"v":1.5363},{"i":175,"v":1.5376},{"i":176,"v":1.5380},{"i":177,"v":1.5383},{"i":178,"v":1.5428},{"i":179,"v":1.5438},{"i":180,"v":1.5428},{"i":181,"v":1.5410},{"i":182,"v":1.5406}
],
"hlines": [{"p":1.59978},{"p":1.57469},{"p":1.53519}],
"bid": [{"p":1.5499}],
"trend": [{"i":-0.5,"p":1.5861},{"i":129,"p":1.6791}],
"ylabels": [{"p":1.6781,"t":"1.67810"},{"p":1.6717,"t":"1.67170"},{"p":1.6653,"t":"1.66530"},{"p":1.6589,"t":"1.65890"},{"p":1.6525,"t":"1.65250"},{"p":1.6459,"t":"1.64590"},{"p":1.6395,"t":"1.63950"},{"p":1.6331,"t":"1.63310"},{"p":1.6267,"t":"1.62670"},{"p":1.6203,"t":"1.62030"},{"p":1.6137,"t":"1.61370"},{"p":1.6073,"t":"1.60730"},{"p":1.6009,"t":"1.60090"},{"p":1.5945,"t":"1.59450"},{"p":1.5881,"t":"1.58810"},{"p":1.5815,"t":"1.58150"},{"p":1.5687,"t":"1.56870"},{"p":1.5623,"t":"1.56230"},{"p":1.5559,"t":"1.55590"},{"p":1.5429,"t":"1.54290"},{"p":1.5365,"t":"1.53650"},{"p":1.5301,"t":"1.53010"},{"p":1.5237,"t":"1.52370"}],
"pricetags": [{"p":1.59978,"t":"1.59978","k":"line"},{"p":1.57469,"t":"1.57469","k":"line"},{"p":1.53519,"t":"1.53519","k":"line"},{"p":1.5499,"t":"1.54990","k":"bid"}],
"levels": [{"v":75,"t":"75"},{"v":25,"t":"25"}],
"stk": [
{"i":0,"v":45},{"i":2,"v":64},{"i":5,"v":82},{"i":6,"v":80},{"i":9,"v":72},{"i":11,"v":77},{"i":13,"v":79},{"i":16,"v":80},{"i":19,"v":84},{"i":21,"v":74},{"i":24,"v":47},{"i":26,"v":24},{"i":28,"v":12},{"i":30,"v":10},{"i":33,"v":15},{"i":36,"v":20},{"i":38,"v":47},{"i":40,"v":75},{"i":42,"v":77},{"i":44,"v":69},{"i":47,"v":68},{"i":49,"v":57},{"i":51,"v":42},{"i":53,"v":25},{"i":56,"v":24},{"i":58,"v":17},{"i":60,"v":12},{"i":62,"v":19},{"i":65,"v":34},{"i":67,"v":34},{"i":69,"v":27},{"i":72,"v":57},{"i":76,"v":84},{"i":80,"v":92},{"i":83,"v":89},{"i":86,"v":74},{"i":89,"v":67},{"i":93,"v":35},{"i":95,"v":44},{"i":98,"v":80},{"i":101,"v":75},{"i":103,"v":59},{"i":106,"v":44},{"i":110,"v":9},{"i":113,"v":7},{"i":117,"v":7},{"i":120,"v":10},{"i":123,"v":8},{"i":126,"v":20},{"i":128,"v":42},{"i":132,"v":34},{"i":134,"v":47},{"i":137,"v":87},{"i":139,"v":86},{"i":144,"v":86},{"i":146,"v":94},{"i":148,"v":94},{"i":151,"v":80},{"i":154,"v":69},{"i":157,"v":64},{"i":160,"v":25},{"i":162,"v":12},{"i":166,"v":9},{"i":168,"v":4},{"i":172,"v":19},{"i":174,"v":40},{"i":177,"v":54},{"i":179,"v":57},{"i":180,"v":52},{"i":182,"v":33.36}
],
"std": [
{"i":0,"v":29},{"i":2,"v":47},{"i":5,"v":80},{"i":7,"v":78},{"i":9,"v":74},{"i":11,"v":77},{"i":14,"v":80},{"i":17,"v":82},{"i":19,"v":83},{"i":21,"v":74},{"i":24,"v":50},{"i":27,"v":24},{"i":29,"v":12},{"i":31,"v":10},{"i":34,"v":17},{"i":37,"v":32},{"i":40,"v":74},{"i":42,"v":78},{"i":45,"v":70},{"i":48,"v":69},{"i":50,"v":54},{"i":53,"v":27},{"i":56,"v":25},{"i":60,"v":15},{"i":62,"v":14},{"i":64,"v":22},{"i":66,"v":34},{"i":69,"v":32},{"i":73,"v":55},{"i":76,"v":82},{"i":80,"v":91},{"i":84,"v":88},{"i":88,"v":77},{"i":90,"v":64},{"i":94,"v":40},{"i":96,"v":47},{"i":99,"v":79},{"i":102,"v":74},{"i":104,"v":55},{"i":108,"v":40},{"i":111,"v":9},{"i":114,"v":7},{"i":118,"v":8},{"i":121,"v":10},{"i":124,"v":8},{"i":127,"v":24},{"i":129,"v":42},{"i":132,"v":34},{"i":135,"v":52},{"i":138,"v":86},{"i":144,"v":86},{"i":146,"v":93},{"i":149,"v":92},{"i":152,"v":79},{"i":155,"v":70},{"i":158,"v":60},{"i":160,"v":24},{"i":163,"v":12},{"i":167,"v":7},{"i":170,"v":7},{"i":173,"v":25},{"i":176,"v":44},{"i":179,"v":55},{"i":180,"v":54},{"i":182,"v":42.01}
],
"notes": [{"t":"Stoch(13,3,5) 33.3572 42.0103"}],
"copyright": [{"t":"FXCM MT4, © 2001-2011 MetaQuotes Software Corp."}]
},
"vconcat": [
{
"width": 1633, "height": 772,
"layer": [
{"data": {"name": "candles"}, "mark": {"type": "rule", "strokeWidth": 1},
 "encoding": {
  "x": {"field": "i", "type": "quantitative", "scale": {"domain": [-0.125, 204], "nice": false, "zero": false, "padding": 0}, "axis": null},
  "y": {"field": "l", "type": "quantitative", "scale": {"domain": [1.52303, 1.6785], "nice": false, "zero": false}, "axis": {"orient": "right", "title": null, "values": [1.6781,1.6717,1.6653,1.6589,1.6525,1.6459,1.6395,1.6331,1.6267,1.6203,1.6137,1.6073,1.6009,1.5945,1.5881,1.5815,1.5687,1.5623,1.5559,1.5429,1.5365,1.5301,1.5237], "tickSize": 4, "labels": false}},
  "y2": {"field": "h"},
  "color": {"condition": {"test": "datum.c >= datum.o", "value": "#0000FF"}, "value": "#FF0000"}
 }},
{"data": {"name": "candles"}, "mark": {"type": "bar", "width": 5},
 "encoding": {
  "x": {"field": "i", "type": "quantitative", "scale": {"domain": [-0.125, 204], "nice": false, "zero": false, "padding": 0}, "axis": null},
  "y": {"field": "o", "type": "quantitative", "scale": {"domain": [1.52303, 1.6785], "nice": false, "zero": false}},
  "y2": {"field": "c"},
  "color": {"condition": {"test": "datum.c >= datum.o", "value": "#0000FF"}, "value": "#FF0000"}
 }},
{"data": {"name": "lime"}, "mark": {"type": "line", "color": "#00FF00", "strokeWidth": 2},
 "encoding": {"x": {"field": "i", "type": "quantitative", "scale": {"domain": [-0.125, 204], "nice": false, "zero": false, "padding": 0}, "axis": null}, "y": {"field": "v", "type": "quantitative", "scale": {"domain": [1.52303, 1.6785], "nice": false, "zero": false}}}},
{"data": {"name": "brown"}, "mark": {"type": "line", "color": "#A52A2A", "strokeWidth": 2},
 "encoding": {"x": {"field": "i", "type": "quantitative", "scale": {"domain": [-0.125, 204], "nice": false, "zero": false, "padding": 0}, "axis": null}, "y": {"field": "v", "type": "quantitative", "scale": {"domain": [1.52303, 1.6785], "nice": false, "zero": false}}}},
{"data": {"name": "bluema"}, "mark": {"type": "line", "color": "#0000FF", "strokeWidth": 2},
 "encoding": {"x": {"field": "i", "type": "quantitative", "scale": {"domain": [-0.125, 204], "nice": false, "zero": false, "padding": 0}, "axis": null}, "y": {"field": "v", "type": "quantitative", "scale": {"domain": [1.52303, 1.6785], "nice": false, "zero": false}}}},
{"data": {"name": "red"}, "mark": {"type": "line", "color": "#FF0000", "strokeWidth": 2},
 "encoding": {"x": {"field": "i", "type": "quantitative", "scale": {"domain": [-0.125, 204], "nice": false, "zero": false, "padding": 0}, "axis": null}, "y": {"field": "v", "type": "quantitative", "scale": {"domain": [1.52303, 1.6785], "nice": false, "zero": false}}}},
{"data": {"name": "yellow"}, "mark": {"type": "line", "color": "#FFFF00", "strokeWidth": 2},
 "encoding": {"x": {"field": "i", "type": "quantitative", "scale": {"domain": [-0.125, 204], "nice": false, "zero": false, "padding": 0}, "axis": null}, "y": {"field": "v", "type": "quantitative", "scale": {"domain": [1.52303, 1.6785], "nice": false, "zero": false}}}},
{"data": {"name": "green"}, "mark": {"type": "line", "color": "#00FF7F", "strokeWidth": 2},
 "encoding": {"x": {"field": "i", "type": "quantitative", "scale": {"domain": [-0.125, 204], "nice": false, "zero": false, "padding": 0}, "axis": null}, "y": {"field": "v", "type": "quantitative", "scale": {"domain": [1.52303, 1.6785], "nice": false, "zero": false}}}},
{"data": {"name": "upper"}, "mark": {"type": "line", "color": "#FFFFFF", "strokeWidth": 2},
 "encoding": {"x": {"field": "i", "type": "quantitative", "scale": {"domain": [-0.125, 204], "nice": false, "zero": false, "padding": 0}, "axis": null}, "y": {"field": "v", "type": "quantitative", "scale": {"domain": [1.52303, 1.6785], "nice": false, "zero": false}}}},
{"data": {"name": "lower"}, "mark": {"type": "line", "color": "#FFFFFF", "strokeWidth": 2},
 "encoding": {"x": {"field": "i", "type": "quantitative", "scale": {"domain": [-0.125, 204], "nice": false, "zero": false, "padding": 0}, "axis": null}, "y": {"field": "v", "type": "quantitative", "scale": {"domain": [1.52303, 1.6785], "nice": false, "zero": false}}}},
{"data": {"name": "hlines"}, "mark": {"type": "rule", "color": "#0000FF", "strokeWidth": 3},
 "encoding": {"y": {"field": "p", "type": "quantitative", "scale": {"domain": [1.52303, 1.6785], "nice": false, "zero": false}}}},
{"data": {"name": "bid"}, "mark": {"type": "rule", "color": "#778899", "strokeWidth": 1},
 "encoding": {"y": {"field": "p", "type": "quantitative", "scale": {"domain": [1.52303, 1.6785], "nice": false, "zero": false}}}},
{"data": {"name": "trend"}, "mark": {"type": "line", "color": "#0000FF", "strokeWidth": 3, "clip": true},
 "encoding": {"x": {"field": "i", "type": "quantitative", "scale": {"domain": [-0.125, 204], "nice": false, "zero": false, "padding": 0}, "axis": null}, "y": {"field": "p", "type": "quantitative", "scale": {"domain": [1.52303, 1.6785], "nice": false, "zero": false}}}},
{"data": {"name": "ylabels"}, "mark": {"type": "text", "align": "left", "baseline": "middle", "fontSize": 9, "color": "#FFFFFF"},
 "encoding": {"x": {"datum": 204.625, "type": "quantitative", "scale": {"domain": [-0.125, 204], "nice": false, "zero": false, "padding": 0}, "axis": null}, "y": {"field": "p", "type": "quantitative", "scale": {"domain": [1.52303, 1.6785], "nice": false, "zero": false}}, "text": {"field": "t"}}},
{"data": {"name": "pricetags"}, "mark": {"type": "tick", "orient": "horizontal", "size": 46, "thickness": 11, "opacity": 1},
 "encoding": {"x": {"datum": 207, "type": "quantitative", "scale": {"domain": [-0.125, 204], "nice": false, "zero": false, "padding": 0}, "axis": null}, "y": {"field": "p", "type": "quantitative", "scale": {"domain": [1.52303, 1.6785], "nice": false, "zero": false}},
  "color": {"condition": {"test": "datum.k == 'bid'", "value": "#FFFFFF"}, "value": "#0000FF"}}},
{"data": {"name": "pricetags"}, "mark": {"type": "text", "align": "left", "baseline": "middle", "fontSize": 9, "color": "#000000"},
 "encoding": {"x": {"datum": 204.55, "type": "quantitative", "scale": {"domain": [-0.125, 204], "nice": false, "zero": false, "padding": 0}, "axis": null}, "y": {"field": "p", "type": "quantitative", "scale": {"domain": [1.52303, 1.6785], "nice": false, "zero": false}}, "text": {"field": "t"}}}
]
},
{
"width": 1633, "height": 100,
"layer": [
{"data": {"name": "stk"}, "mark": {"type": "line", "color": "#00FF7F", "strokeWidth": 2},
 "encoding": {
  "x": {"field": "i", "type": "quantitative", "scale": {"domain": [-0.125, 204], "nice": false, "zero": false, "padding": 0},
   "axis": {"orient": "bottom", "title": null, "values": [0,8,16,24,32,40,48,56,64,72,80,88,96,104,112,120,128,136,144,152,160,168,176], "labelExpr": "['5 Apr 2011','15 Apr 2011','27 Apr 2011','9 May 2011','19 May 2011','31 May 2011','10 Jun 2011','22 Jun 2011','4 Jul 2011','14 Jul 2011','26 Jul 2011','5 Aug 2011','17 Aug 2011','29 Aug 2011','8 Sep 2011','20 Sep 2011','30 Sep 2011','12 Oct 2011','24 Oct 2011','3 Nov 2011','15 Nov 2011','25 Nov 2011','7 Dec 2011'][round(datum.value/8)]", "tickSize": 5, "labelAlign": "left", "labelBaseline": "top", "labelPadding": 0, "labelOffset": 1, "labelOverlap": false, "labelFlush": false, "labelBound": false}},
  "y": {"field": "v", "type": "quantitative", "scale": {"domain": [0, 100], "nice": false, "zero": false}, "axis": {"orient": "right", "title": null, "values": [0, 100], "tickSize": 0, "labelPadding": 5, "labelFlush": true, "labelOverlap": false}}
 }},
{"data": {"name": "levels"}, "mark": {"type": "rule", "color": "#FF0000", "strokeWidth": 3},
 "encoding": {"y": {"field": "v", "type": "quantitative", "scale": {"domain": [0, 100], "nice": false, "zero": false}}}},
{"data": {"name": "stk"}, "mark": {"type": "line", "color": "#00FF7F", "strokeWidth": 2},
 "encoding": {"x": {"field": "i", "type": "quantitative", "scale": {"domain": [-0.125, 204], "nice": false, "zero": false, "padding": 0}}, "y": {"field": "v", "type": "quantitative", "scale": {"domain": [0, 100], "nice": false, "zero": false}}}},
{"data": {"name": "std"}, "mark": {"type": "line", "color": "#FFFF00", "strokeWidth": 2},
 "encoding": {"x": {"field": "i", "type": "quantitative", "scale": {"domain": [-0.125, 204], "nice": false, "zero": false, "padding": 0}}, "y": {"field": "v", "type": "quantitative", "scale": {"domain": [0, 100], "nice": false, "zero": false}}}},
{"data": {"name": "levels"}, "mark": {"type": "tick", "orient": "horizontal", "size": 13, "thickness": 11, "color": "#FF0000", "opacity": 1},
 "encoding": {"x": {"datum": 205, "type": "quantitative", "scale": {"domain": [-0.125, 204], "nice": false, "zero": false, "padding": 0}}, "y": {"field": "v", "type": "quantitative", "scale": {"domain": [0, 100], "nice": false, "zero": false}}}},
{"data": {"name": "levels"}, "mark": {"type": "text", "align": "center", "baseline": "middle", "fontSize": 9.5, "color": "#000000"},
 "encoding": {"x": {"datum": 205, "type": "quantitative", "scale": {"domain": [-0.125, 204], "nice": false, "zero": false, "padding": 0}}, "y": {"field": "v", "type": "quantitative", "scale": {"domain": [0, 100], "nice": false, "zero": false}}, "text": {"field": "t"}}},
{"data": {"name": "notes"}, "mark": {"type": "text", "align": "left", "baseline": "middle", "fontSize": 8.5, "color": "#E0E0E0"},
 "encoding": {"x": {"datum": 0.2, "type": "quantitative", "scale": {"domain": [-0.125, 204], "nice": false, "zero": false, "padding": 0}}, "y": {"datum": 91.5, "type": "quantitative", "scale": {"domain": [0, 100], "nice": false, "zero": false}}, "text": {"field": "t"}}},
{"data": {"name": "copyright"}, "mark": {"type": "text", "align": "left", "baseline": "middle", "fontSize": 10, "color": "#FFFFFF"},
 "encoding": {"x": {"datum": 0.35, "type": "quantitative", "scale": {"domain": [-0.125, 204], "nice": false, "zero": false, "padding": 0}}, "y": {"datum": 8, "type": "quantitative", "scale": {"domain": [0, 100], "nice": false, "zero": false}}, "text": {"field": "t"}}}
]
}
]
}
